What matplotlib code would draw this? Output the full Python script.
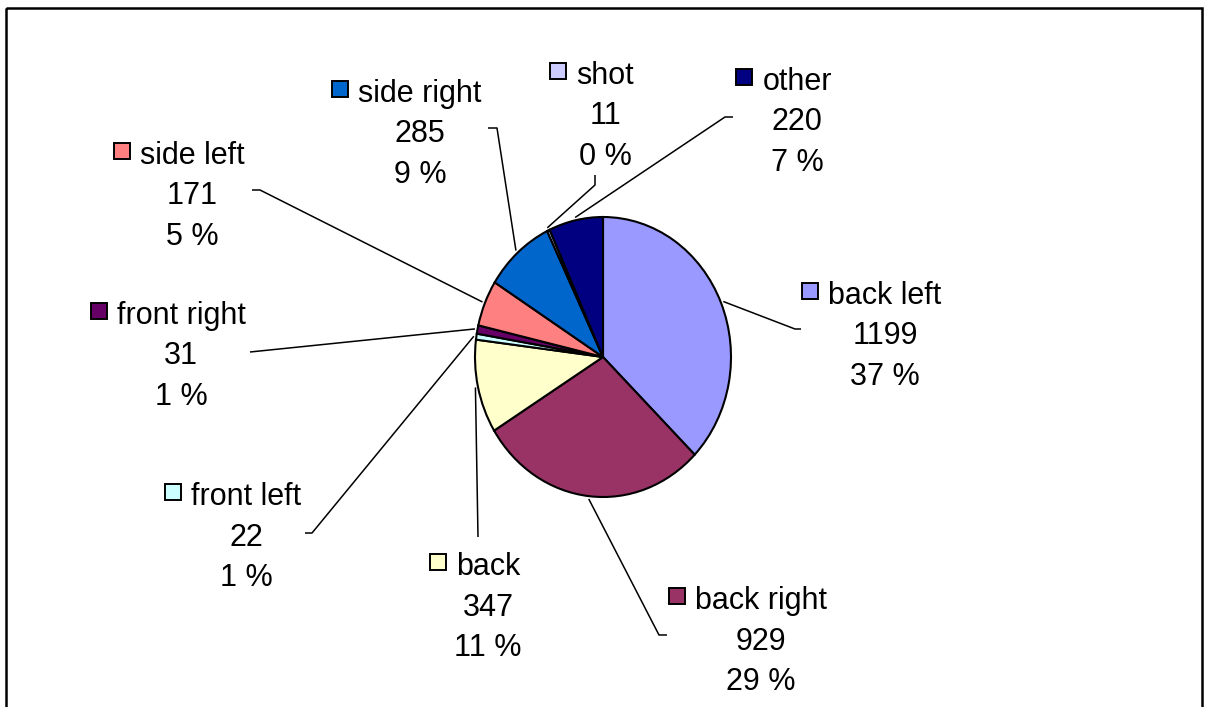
import numpy as np
import matplotlib
matplotlib.use('Agg')
import matplotlib.pyplot as plt
from matplotlib.patches import Rectangle

plt.rcParams['font.family'] = ['Liberation Sans', 'DejaVu Sans']

# slice data, clockwise from 12 o'clock
names = ['back left', 'back right', 'back', 'front left', 'front right',
         'side left', 'side right', 'shot', 'other']
counts = [1199, 929, 347, 22, 31, 171, 285, 11, 220]
colors = ['#9999FF', '#993366', '#FFFFCC', '#CCFFFF', '#660066',
          '#FF8080', '#0066CC', '#CCCCFF', '#000080']

# label layout in pixels: centre x of the text block, centre y of first line
label_x = [885, 761, 488, 246, 181, 192, 420, 605, 797]
label_y = [292, 597, 563, 493, 312, 152, 90, 72, 78]
# leader line elbow and stub end (pixels)
elbow = [(795, 329), (659, 635), (478, 537), (312, 533), (250, 352),
         (260, 190), (497, 128), (595, 185), (725, 117)]
stub = [(801, 329), (667, 635), (478, 537), (305, 533), (250, 352),
        (252, 190), (488, 128), (595, 175), (733, 117)]

W, H = 1211, 707
fig = plt.figure(figsize=(W / 100, H / 100), dpi=100)
fig.patch.set_facecolor('white')

bg = fig.add_axes([0, 0, 1, 1])
bg.set_xlim(0, W)
bg.set_ylim(H, 0)
bg.axis('off')

# chart border
bg.add_patch(Rectangle((6, 7.5), 1196, 720, fill=False, ec='black', lw=1.8,
                       clip_on=False))

# pie (slightly stretched vertically like the original)
px0, px1, py0, py1 = 475, 731, 217, 497
pax = fig.add_axes([px0 / W, (H - py1) / H, (px1 - px0) / W, (py1 - py0) / H])
pax.pie(counts, colors=colors, startangle=90, counterclock=False, radius=1,
        wedgeprops=dict(edgecolor='black', linewidth=1.5))
pax.set_aspect('auto')
pax.set_xlim(-1, 1)
pax.set_ylim(-1, 1)
pax.axis('off')

total = sum(counts)
fracs = np.array(counts) / total
cum = np.cumsum(fracs) - fracs / 2
to_bg = pax.transData + bg.transData.inverted()

fig.canvas.draw()
renderer = fig.canvas.get_renderer()

fs = 22
dy = 40.5
for i, name in enumerate(names):
    ang = np.deg2rad(90 - cum[i] * 360)
    ex, ey = to_bg.transform((1.02 * np.cos(ang), 1.02 * np.sin(ang)))
    bg.plot([ex, elbow[i][0], stub[i][0]], [ey, elbow[i][1], stub[i][1]],
            color='black', lw=1.1, solid_capstyle='butt')

    cx, cy = label_x[i], label_y[i]
    t = bg.text(cx, cy + 12, name, ha='center', va='baseline', fontsize=fs)
    bg.text(cx, cy + dy + 12, str(counts[i]), ha='center', va='baseline', fontsize=fs)
    pct = int(round(fracs[i] * 100))
    bg.text(cx, cy + 2 * dy + 12, '%d %%' % pct, ha='center', va='baseline', fontsize=fs)

    bb = t.get_window_extent(renderer)
    x0 = bg.transData.inverted().transform((bb.x0, bb.y0))[0]
    bg.add_patch(Rectangle((x0 - 26, cy - 9), 16, 16, fc=colors[i], ec='black',
                           lw=1.4))

fig.savefig('out.png', dpi=100)
